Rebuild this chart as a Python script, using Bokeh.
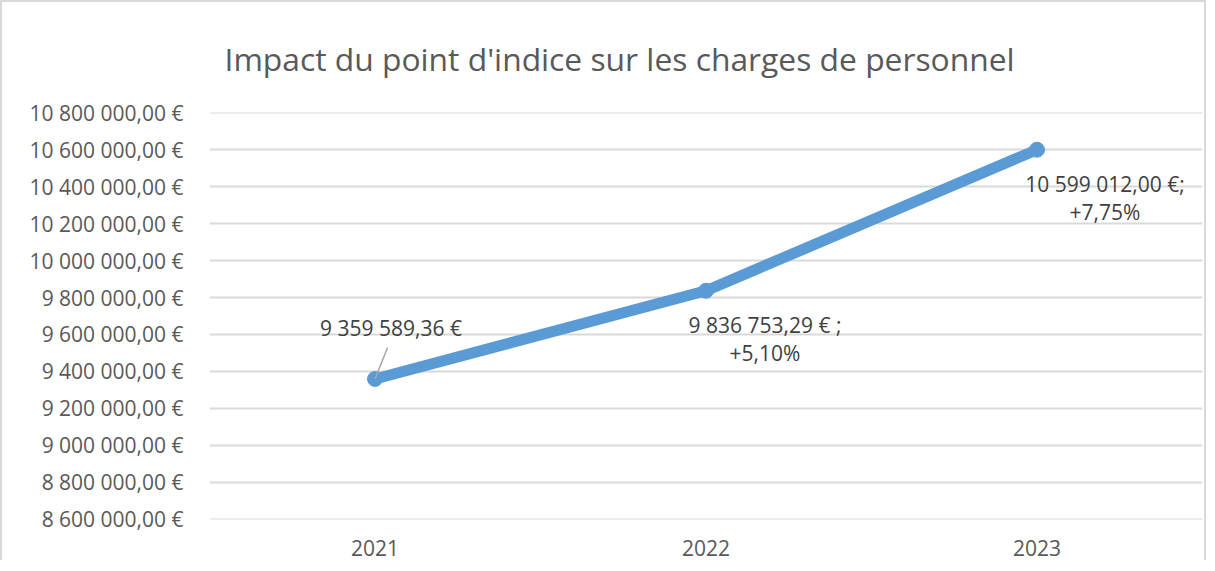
from bokeh.plotting import figure
from bokeh.models import (FactorRange, Range1d, FixedTicker, ColumnDataSource,
                          CDSView, IndexFilter, Title)
from bokeh.transform import dodge
from bokeh.core.properties import value
from bokeh.embed import file_html
from bokeh.resources import INLINE

# ---- data ----
years = ["2021", "2022", "2023"]
charges = [9359589.36, 9836753.29, 10599012.00]
data_labels = ["9 359 589,36 €", "9 836 753,29 € ;\n+5,10%", "10 599 012,00 €;\n+7,75%"]
y_ticks = [8600000, 8800000, 9000000, 9200000, 9400000, 9600000,
           9800000, 10000000, 10200000, 10400000, 10600000, 10800000]
y_tick_labels = ["8 600 000,00 €", "8 800 000,00 €", "9 000 000,00 €", "9 200 000,00 €",
                 "9 400 000,00 €", "9 600 000,00 €", "9 800 000,00 €", "10 000 000,00 €",
                 "10 200 000,00 €", "10 400 000,00 €", "10 600 000,00 €", "10 800 000,00 €"]
title_text = "Impact du point d'indice sur les charges de personnel"

FONT = "Open Sans"
GRAY = "#595959"
LINE = "#5B9BD5"

src = ColumnDataSource(dict(x=years, y=charges, label=data_labels))

p = figure(width=1206, height=560, output_backend="svg", toolbar_location=None,
           x_range=FactorRange(*years, range_padding=0),
           y_range=Range1d(y_ticks[0] - 100, y_ticks[-1] + 100),
           min_border_left=207, min_border_right=6, min_border_top=109, min_border_bottom=43)
p.styles = {"border-top": "2px solid #D9D9D9", "border-left": "2px solid #D9D9D9",
            "border-right": "2px solid #D9D9D9"}

p.title = Title(text=title_text, align="left", offset=15, standoff=65,
                text_font=FONT, text_font_size="31.8px", text_font_style="normal",
                text_color=GRAY)

p.outline_line_color = None
p.xgrid.grid_line_color = None
p.ygrid.grid_line_color = "#D9D9D9"
p.ygrid.grid_line_width = 2

p.yaxis.ticker = FixedTicker(ticks=y_ticks)
p.yaxis.major_label_overrides = {t: l for t, l in zip(y_ticks, y_tick_labels)}
for ax in (p.xaxis[0], p.yaxis[0]):
    ax.axis_line_color = None
    ax.major_tick_line_color = None
    ax.minor_tick_line_color = None
    ax.major_label_text_font = FONT
    ax.major_label_text_font_size = "21px"
    ax.major_label_text_color = GRAY
p.yaxis.major_label_standoff = 20
p.xaxis.major_label_standoff = 14

# series
p.line(x="x", y="y", source=src, line_color=LINE, line_width=11, line_cap="round",
       line_join="round")
p.scatter(x="x", y="y", source=src, size=15, fill_color=LINE, line_color=LINE)

# leader line for first label
lead = ColumnDataSource(dict(x=years[:1], y0=charges[:1], y1=[charges[0] + 170000]))
p.segment(x0="x", y0="y0", x1=dodge("x", 0.038, range=p.x_range), y1="y1",
          source=lead, line_color="#A6A6A6", line_width=1.5)

# data labels
offsets = [(16, -51), (59, 48), (68, 48)]
for i, (dx, dy) in enumerate(offsets):
    p.text(x="x", y="y", text="label", source=src, view=CDSView(filter=IndexFilter([i])),
           x_offset=dx, y_offset=dy, text_align="center", text_baseline="middle",
           text_font=value(FONT), text_font_size="21px", text_color="#404040",
           text_line_height=1.0)

open("out.html", "w").write(file_html(p, INLINE))
